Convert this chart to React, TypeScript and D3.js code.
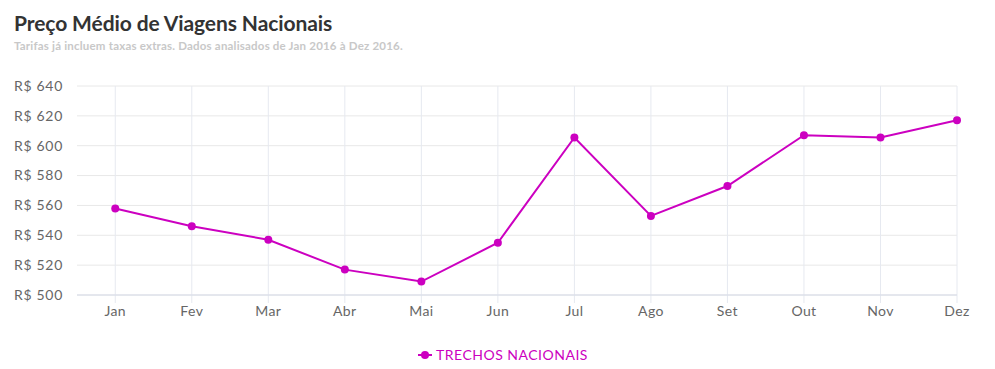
import React from "react";
import * as d3 from "d3";

const months = ["Jan", "Fev", "Mar", "Abr", "Mai", "Jun", "Jul", "Ago", "Set", "Out", "Nov", "Dez"];
const prices = [558, 546, 537, 517, 509, 535, 605.5, 553, 573, 607, 605.5, 617];
const yTicks = [500, 520, 540, 560, 580, 600, 620, 640];
const seriesName = "TRECHOS NACIONAIS";
const title = "Preço Médio de Viagens Nacionais";
const subtitle = "Tarifas já incluem taxas extras. Dados analisados de Jan 2016 à Dez 2016.";

const W = 995;
const H = 369;
const left = 77;
const right = 957;
const top = 86;
const bottom = 295;
const color = "#cc00c0";
const font = "Lato, 'Open Sans', sans-serif";

export default function App() {
  const x = d3.scaleLinear().domain([-0.5, months.length - 1]).range([left, right]);
  const y = d3.scaleLinear().domain([500, 640]).range([bottom, top]);
  const line = d3
    .line<number>()
    .x((_, i) => x(i))
    .y((d) => y(d));

  return (
    <svg width={W} height={H} style={{ position: "absolute", left: 0, top: 0, fontFamily: font }}>
      <rect width={W} height={H} fill="#fff" />
      <text x={14} y={31} fontSize={21} fontWeight={700} fill="#333" letterSpacing={-0.1}>
        {title}
      </text>
      <text x={14} y={50} fontSize={11.5} fontWeight={700} fill="#c8c8c8" letterSpacing={0.2}>
        {subtitle}
      </text>
      {yTicks.map((t) => (
        <g key={t}>
          <line x1={left} x2={right} y1={y(t)} y2={y(t)} stroke="#e8e8e8" strokeWidth={1} />
          <text x={63} y={y(t)} dy="0.35em" textAnchor="end" fontSize={14} fill="#666" letterSpacing={0.7}>
            {`R$ ${t}`}
          </text>
        </g>
      ))}
      {months.map((m, i) => (
        <g key={m}>
          <line x1={x(i)} x2={x(i)} y1={top} y2={bottom + 8} stroke="#e6e9f0" strokeWidth={1} />
          <text x={x(i)} y={316} textAnchor="middle" fontSize={14} fill="#666" letterSpacing={0.4}>
            {m}
          </text>
        </g>
      ))}
      <line x1={left} x2={right} y1={bottom} y2={bottom} stroke="#d6dbe8" strokeWidth={1} />
      <path d={line(prices) || ""} fill="none" stroke={color} strokeWidth={2} />
      {prices.map((p, i) => (
        <circle key={i} cx={x(i)} cy={y(p)} r={4} fill={color} />
      ))}
      <g>
        <line x1={418} x2={432} y1={355} y2={355} stroke={color} strokeWidth={2} />
        <circle cx={425} cy={355} r={4} fill={color} />
        <text x={436} y={360} fontSize={14} fill={color} letterSpacing={0.5}>
          {seriesName}
        </text>
      </g>
    </svg>
  );
}
